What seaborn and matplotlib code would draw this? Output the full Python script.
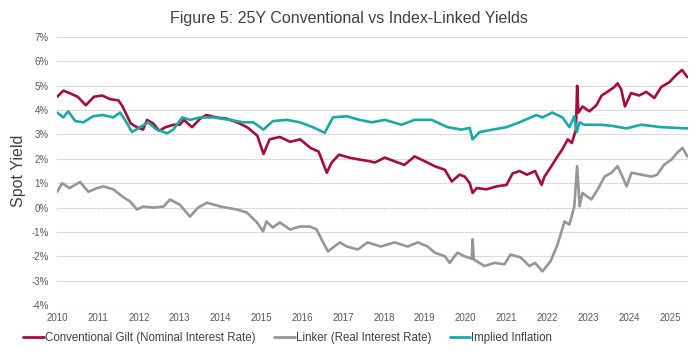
"""
25Y conventional vs index-linked gilt yields.
"""

import numpy as np
import pandas as pd
import matplotlib
matplotlib.use("Agg")
import matplotlib.pyplot as plt
import seaborn as sns

# Conventional gilt (nominal), decimal years / % yield
nominal_x = [2010.0, 2010.15, 2010.3, 2010.5, 2010.7, 2010.9, 2011.1, 2011.3, 2011.5, 2011.6,
             2011.8, 2011.95, 2012.1, 2012.2, 2012.35, 2012.5, 2012.65, 2012.85, 2013.0, 2013.1,
             2013.3, 2013.5, 2013.65, 2013.9, 2014.15, 2014.4, 2014.65, 2014.9, 2015.05, 2015.2,
             2015.45, 2015.7, 2015.95, 2016.2, 2016.4, 2016.6, 2016.72, 2016.9, 2017.15, 2017.4,
             2017.65, 2017.78, 2018.02, 2018.26, 2018.5, 2018.75, 2019.0, 2019.24, 2019.49, 2019.66,
             2019.85, 2019.98, 2020.1, 2020.17, 2020.27, 2020.51, 2020.76, 2021.0, 2021.15, 2021.32,
             2021.5, 2021.7, 2021.86, 2021.93, 2022.1, 2022.25, 2022.37, 2022.5, 2022.6, 2022.7,
             2022.73, 2022.76, 2022.86, 2023.03, 2023.2, 2023.33, 2023.47, 2023.64, 2023.72, 2023.81,
             2023.9, 2024.05, 2024.25, 2024.42, 2024.62, 2024.79, 2024.99, 2025.16, 2025.3, 2025.43]
nominal_y = [4.55, 4.8, 4.7, 4.55, 4.2, 4.55, 4.6, 4.45, 4.4, 4.15,
             3.45, 3.3, 3.2, 3.6, 3.45, 3.15, 3.3, 3.4, 3.4, 3.6,
             3.3, 3.65, 3.8, 3.7, 3.65, 3.5, 3.3, 2.95, 2.2, 2.8,
             2.9, 2.7, 2.8, 2.45, 2.3, 1.43, 1.85, 2.17, 2.05, 1.97,
             1.9, 1.85, 2.05, 1.9, 1.75, 2.1, 1.9, 1.7, 1.55, 1.07,
             1.35, 1.27, 1.0, 0.6, 0.8, 0.75, 0.87, 0.93, 1.4, 1.5,
             1.35, 1.5, 0.93, 1.27, 1.7, 2.1, 2.4, 2.8, 2.65, 3.2,
             5.0, 3.9, 4.15, 3.95, 4.2, 4.6, 4.75, 4.95, 5.1, 4.85,
             4.15, 4.7, 4.6, 4.75, 4.5, 4.95, 5.15, 5.45, 5.65, 5.35]

# Index-linked gilt (real)
real_x = [2010.0, 2010.12, 2010.3, 2010.56, 2010.76, 2010.98, 2011.13, 2011.37, 2011.62, 2011.78,
          2011.95, 2012.1, 2012.35, 2012.6, 2012.76, 2013.0, 2013.25, 2013.45, 2013.67, 2014.0,
          2014.4, 2014.64, 2014.89, 2015.04, 2015.12, 2015.28, 2015.45, 2015.7, 2015.94, 2016.19,
          2016.35, 2016.47, 2016.63, 2016.75, 2016.92, 2017.09, 2017.36, 2017.6, 2017.92, 2018.26,
          2018.58, 2018.83, 2019.07, 2019.24, 2019.49, 2019.61, 2019.8, 2019.97, 2020.15, 2020.17,
          2020.2, 2020.46, 2020.71, 2020.95, 2021.1, 2021.35, 2021.56, 2021.7, 2021.88, 2022.08,
          2022.25, 2022.42, 2022.54, 2022.66, 2022.73, 2022.79, 2022.86, 2023.08, 2023.23, 2023.4,
          2023.57, 2023.72, 2023.84, 2023.94, 2024.06, 2024.3, 2024.55, 2024.69, 2024.86, 2025.04,
          2025.18, 2025.31, 2025.43]
real_y = [0.65, 1.0, 0.8, 1.05, 0.65, 0.8, 0.87, 0.75, 0.42, 0.26,
          -0.08, 0.04, 0.0, 0.04, 0.33, 0.12, -0.37, 0.0, 0.2, 0.04,
          -0.08, -0.2, -0.61, -0.98, -0.57, -0.82, -0.61, -0.9, -0.78, -0.78,
          -0.9, -1.3, -1.8, -1.64, -1.43, -1.6, -1.72, -1.43, -1.6, -1.43,
          -1.6, -1.43, -1.6, -1.85, -2.0, -2.27, -1.85, -2.0, -2.1, -1.3,
          -2.13, -2.4, -2.27, -2.33, -1.93, -2.05, -2.4, -2.27, -2.62, -2.2,
          -1.52, -0.57, -0.7, 0.04, 1.7, 0.05, 0.6, 0.33, 0.74, 1.27,
          1.43, 1.7, 1.27, 0.87, 1.43, 1.35, 1.27, 1.35, 1.76, 1.97,
          2.25, 2.45, 2.1]

# Implied inflation
inflation_x = [2010.0, 2010.15, 2010.27, 2010.44, 2010.64, 2010.88, 2011.12, 2011.37, 2011.54, 2011.66,
               2011.83, 2012.03, 2012.22, 2012.44, 2012.69, 2012.84, 2013.06, 2013.25, 2013.5, 2013.82,
               2014.23, 2014.55, 2014.8, 2015.05, 2015.28, 2015.62, 2015.94, 2016.26, 2016.55, 2016.75,
               2017.09, 2017.4, 2017.7, 2018.02, 2018.43, 2018.75, 2019.17, 2019.56, 2019.9, 2020.1,
               2020.17, 2020.34, 2020.66, 2021.0, 2021.32, 2021.73, 2021.88, 2022.12, 2022.37, 2022.54,
               2022.66, 2022.72, 2022.79, 2022.9, 2023.3, 2023.6, 2023.94, 2024.3, 2024.8, 2025.43]
inflation_y = [3.9, 3.7, 3.95, 3.55, 3.5, 3.75, 3.8, 3.7, 3.9, 3.6,
               3.1, 3.3, 3.5, 3.2, 3.05, 3.2, 3.7, 3.6, 3.7, 3.7,
               3.6, 3.5, 3.5, 3.2, 3.55, 3.6, 3.5, 3.3, 3.07, 3.7,
               3.75, 3.6, 3.5, 3.6, 3.4, 3.6, 3.6, 3.3, 3.2, 3.27,
               2.8, 3.1, 3.2, 3.3, 3.5, 3.8, 3.7, 3.9, 3.7, 3.3,
               3.75, 3.1, 3.5, 3.4, 3.4, 3.35, 3.25, 3.4, 3.3, 3.25]

series_names = ["Conventional Gilt (Nominal Interest Rate)",
                "Linker (Real Interest Rate)",
                "Implied Inflation"]
year_ticks = list(range(2010, 2026))
pct_ticks = list(range(-4, 8))
pct_labels = [f"{v}%" for v in pct_ticks]

colors = ["#A50D3B", "#969696", "#19AAA6"]


def main():
    frames = []
    for name, xs, ys in zip(series_names,
                            [nominal_x, real_x, inflation_x],
                            [nominal_y, real_y, inflation_y]):
        frames.append(pd.DataFrame({"year": xs, "value": ys, "series": name}))
    df = pd.concat(frames, ignore_index=True)

    sns.set_theme(style="white")
    plt.rcParams["font.family"] = ["Liberation Sans", "DejaVu Sans"]

    fig, ax = plt.subplots(figsize=(6.98, 3.53), dpi=100)
    fig.subplots_adjust(left=0.082, right=0.986, top=0.895, bottom=0.136)

    sns.lineplot(data=df, x="year", y="value", hue="series", hue_order=series_names,
                 palette=colors, estimator=None, sort=True, linewidth=1.9, ax=ax,
                 legend=False)

    ax.set_xlim(2010, 2025.45)
    ax.set_ylim(-4, 7)
    ax.set_yticks(pct_ticks)
    ax.set_yticklabels(pct_labels)
    ax.set_xticks(year_ticks)
    ax.set_xticklabels([str(y) for y in year_ticks])
    ax.tick_params(axis="both", labelsize=7, colors="#595959", length=0, pad=6)
    ax.grid(axis="y", color="#DCDCDC", linewidth=0.8)
    ax.set_axisbelow(True)
    for s in ax.spines.values():
        s.set_visible(False)
    # small tick marks where the x axis crosses 0%
    ax.vlines(year_ticks, -0.1, 0, color="#DCDCDC", linewidth=0.8, zorder=0)

    ax.set_xlabel("")
    ax.set_ylabel("Spot Yield", fontsize=11.5, color="#404040", labelpad=4)
    fig.suptitle("Figure 5: 25Y Conventional vs Index-Linked Yields",
                 fontsize=11.5, color="#404040", x=0.5, y=0.97)

    handles = [plt.Line2D([], [], color=c, linewidth=2) for c in colors]
    fig.legend(handles, series_names, loc="lower left", bbox_to_anchor=(0.018, -0.005),
               ncol=3, frameon=False, fontsize=8.3, handlelength=1.8, handletextpad=0.1,
               columnspacing=1.6, labelcolor="#404040")

    fig.savefig("out.png", dpi=100)


if __name__ == "__main__":
    main()
